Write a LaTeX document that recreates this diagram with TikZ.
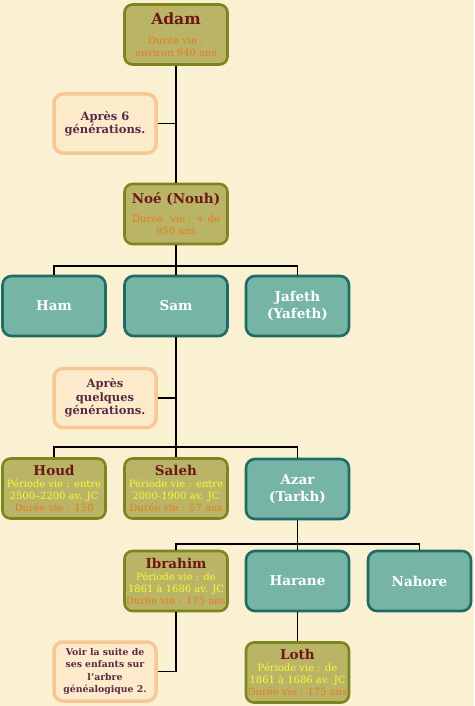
\documentclass[tikz,border=0pt]{standalone}
\usepackage{fontspec}
\setmainfont{DejaVu Serif}
\usetikzlibrary{positioning}
\definecolor{genbg}{HTML}{FAF0D2}
\definecolor{genolive}{HTML}{BAB566}
\definecolor{genolivedk}{HTML}{7C861E}
\definecolor{genteal}{HTML}{76B5A5}
\definecolor{gentealdk}{HTML}{1E6C63}
\definecolor{gennote}{HTML}{FCEBCB}
\definecolor{gennotedk}{HTML}{F7C796}
\definecolor{gennoteink}{HTML}{5A2A44}
\definecolor{gentitle}{HTML}{6E1616}
\definecolor{genorange}{HTML}{E57A22}
\definecolor{genyellow}{HTML}{F8F83A}
\newcommand\gname[2][13.5]{{\fontsize{#1}{16}\selectfont\bfseries\color{gentitle}#2}}
\newcommand\gper[1]{{\color{genyellow}#1}}
\newcommand\gdur[1]{{\color{genorange}#1}}
\tikzset{
  olv/.style={draw=genolivedk, line width=2.6pt, fill=genolive, rounded corners=8pt, minimum width=103pt, minimum height=60pt, align=center, inner sep=1pt, font=\fontsize{10}{12}\selectfont},
  tea/.style={draw=gentealdk, line width=2.6pt, fill=genteal, rounded corners=9pt, minimum width=103pt, minimum height=60pt, align=center, text=white, font=\fontsize{13.5}{17}\selectfont\bfseries},
  nte/.style={draw=gennotedk, line width=3.5pt, fill=gennote, rounded corners=9pt, minimum width=102pt, minimum height=59pt, align=center, text=gennoteink, font=\fontsize{11.5}{13.5}\selectfont\bfseries},
  lnk/.style={line width=1.8pt, black},
}
\begin{document}
\begin{tikzpicture}[x=1pt, y=-1pt]
  \fill[genbg] (0,0) rectangle (474,706);
  \useasboundingbox (0,0) rectangle (474,706);
  % first generations
  \node[olv] (adam) at (176,34.5) {\gname[15.5]{Adam}\\[8pt] \gdur{Durée vie :}\\ \gdur{environ 940 ans}};
  \node[nte] (gen6) at (105,123.5) {Après 6\\générations.};
  \node[olv] (noe) at (176,214) {\gname{Noé (Nouh)}\\[7pt] \gdur{Durée. vie : + de}\\ \gdur{950 ans}};
  \foreach \n/\x/\t in {ham/54/Ham, sam/176/Sam, jafeth/297.5/{Jafeth\\(Yafeth)}}
    { \node[tea] (\n) at (\x,306) {\t}; }
  \node[nte] (genq) at (105,398) {Après\\quelques\\générations.};
  % prophets
  \node[olv] (houd) at (54,488.5) {\gname{Houd}\\ \gper{Période vie : entre}\\ \gper{2500–2200 av. JC}\\ \gdur{Durée vie : 150}};
  \node[olv] (saleh) at (176,488.5) {\gname{Saleh}\\ \gper{Période vie : entre}\\ \gper{2000-1900 av. JC}\\ \gdur{Durée vie : 57 ans}};
  \node[tea] (azar) at (297.5,489) {Azar\\(Tarkh)};
  \node[olv] (ibrahim) at (176,581) {\gname{Ibrahim}\\ \gper{Période vie : de}\\ \gper{1861 à 1686 av. JC}\\ \gdur{Durée vie : 175 ans}};
  \node[tea] (harane) at (297.5,581) {Harane};
  \node[tea] (nahore) at (419.5,581) {Nahore};
  \node[nte, font=\fontsize{9.3}{12.3}\selectfont\bfseries] (suite) at (105,671.5) {Voir la suite de\\ses enfants sur\\l'arbre\\généalogique 2.};
  \node[olv] (loth) at (297.5,672.5) {\gname{Loth}\\ \gper{Période vie : de}\\ \gper{1861 à 1686 av. JC}\\ \gdur{Durée vie : 175 ans}};
  % links
  \coordinate (bar1) at (176,266);
  \coordinate (bar2) at (176,447);
  \coordinate (bar3) at (297.5,544);
  \draw[lnk] (adam.south) -- (noe.north);
  \draw[lnk] (gen6.east) -- (gen6.east -| adam.south);
  \draw[lnk] (noe.south) -- (sam.north);
  \draw[lnk] (ham.north) |- (bar1) -| (jafeth.north);
  \draw[lnk] (sam.south) -- (saleh.north);
  \draw[lnk] (genq.east) -- (genq.east -| sam.south);
  \draw[lnk] (houd.north) |- (bar2) -| (azar.north);
  \draw[lnk] (azar.south) -- (harane.north);
  \draw[lnk] (ibrahim.north) |- (bar3) -| (nahore.north);
  \draw[lnk] (ibrahim.south) |- (suite.east);
  \draw[lnk] (harane.south) -- (loth.north);
\end{tikzpicture}
\end{document}
